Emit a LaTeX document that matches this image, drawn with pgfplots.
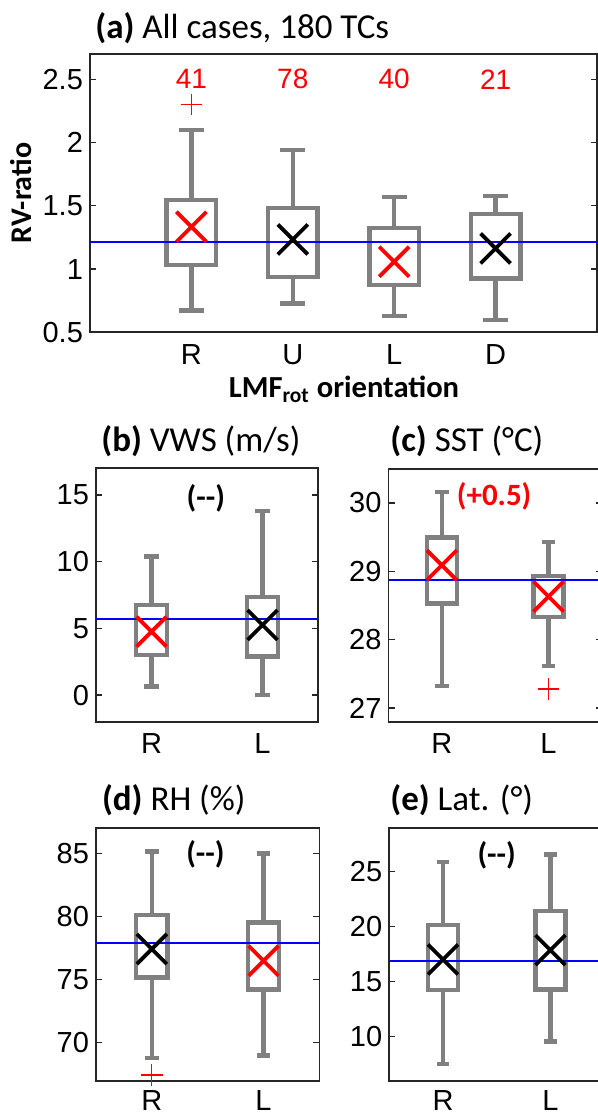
\documentclass[border=0pt]{standalone}
\usepackage{fontspec}
\setmainfont{Liberation Sans}
\newfontfamily\calib{Carlito}
\usepackage{pgfplots}
\pgfplotsset{compat=1.18}
\usepgfplotslibrary{statistics}
\definecolor{boxgray}{RGB}{128,128,128}
\definecolor{framec}{RGB}{38,38,38}
\definecolor{mred}{RGB}{255,0,0}
\definecolor{mblue}{RGB}{0,0,255}

\pgfplotsset{
  mystyle/.style={
    scale only axis, anchor=north west,
    axis line style={draw=framec, line width=0.85pt},
    tick align=inside,
    major tick length=3pt,
    xtick style={draw=none},
    ytick style={draw=framec, line width=0.6pt},
    tick label style={font=\fontsize{14.5}{16}\selectfont},
    /pgf/number format/assume math mode=true,
    xticklabel style={yshift=-2.4pt},
    boxplot/draw direction=y,
    boxplot/draw/median/.code={},
  },
  bx/.style={draw=boxgray, line width=2.2pt, solid, mark=none},
  xm/.style={only marks, mark=x, mark size=10.6pt, mark options={line width=1.9pt, solid}},
  pm/.style={only marks, mark=+, mark size=5.4pt, mark options={line width=0.65pt, solid}, mred},
  bl/.style={mblue, line width=1pt, mark=none},
}

\begin{document}
\begin{tikzpicture}
\useasboundingbox (0pt,0pt) rectangle (299pt,557.5pt);
\begin{scope}
\clip (0pt,0pt) rectangle (299pt,557.5pt);

% ---------------- (a) ----------------
\begin{axis}[mystyle, at={(45pt,530.5pt)}, width=253.5pt, height=139.15pt,
  xmin=0, xmax=5, ymin=0.5, ymax=2.7,
  xtick={1,2,3,4}, xticklabels={R,U,L,D},
  ytick={0.5,1,1.5,2,2.5}]
\addplot[bx, boxplot prepared={lower whisker=0.671, lower quartile=1.032, median=1.334, upper quartile=1.545, upper whisker=2.097, draw position=1, box extend=0.49, whisker extend=0.246}] coordinates {};
\addplot[bx, boxplot prepared={lower whisker=0.729, lower quartile=0.939, median=1.234, upper quartile=1.484, upper whisker=1.94, draw position=2, box extend=0.49, whisker extend=0.246}] coordinates {};
\addplot[bx, boxplot prepared={lower whisker=0.629, lower quartile=0.874, median=1.058, upper quartile=1.326, upper whisker=1.571, draw position=3, box extend=0.49, whisker extend=0.246}] coordinates {};
\addplot[bx, boxplot prepared={lower whisker=0.597, lower quartile=0.926, median=1.163, upper quartile=1.434, upper whisker=1.576, draw position=4, box extend=0.49, whisker extend=0.246}] coordinates {};
\addplot[bl] coordinates {(0,1.216) (5,1.216)};
\addplot[xm, mred] coordinates {(1,1.334) (3,1.058)};
\addplot[xm, black] coordinates {(2,1.234) (4,1.163)};
\addplot[pm] coordinates {(1,2.30)};
\node[mred, font=\fontsize{14}{16}\selectfont] at (axis cs:1,2.5) {41};
\node[mred, font=\fontsize{14}{16}\selectfont] at (axis cs:2,2.5) {78};
\node[mred, font=\fontsize{14}{16}\selectfont] at (axis cs:3,2.5) {40};
\node[mred, font=\fontsize{14}{16}\selectfont] at (axis cs:4,2.5) {21};
\end{axis}

% ---------------- (b) ----------------
\begin{axis}[mystyle, at={(48pt,323.35pt)}, width=111pt, height=126.7pt,
  xmin=0.5, xmax=2.5, ymin=-2, ymax=17,
  xtick={1,2}, xticklabels={R,L}, ytick={0,5,10,15}]
\addplot[bx, boxplot prepared={lower whisker=0.625, lower quartile=3.0, median=4.75, upper quartile=6.75, upper whisker=10.375, draw position=1, box extend=0.28, whisker extend=0.14}] coordinates {};
\addplot[bx, boxplot prepared={lower whisker=0.0, lower quartile=2.875, median=5.25, upper quartile=7.33, upper whisker=13.8, draw position=2, box extend=0.28, whisker extend=0.14}] coordinates {};
\addplot[bl] coordinates {(0.5,5.675) (2.5,5.675)};
\addplot[xm, mred] coordinates {(1,4.75)};
\addplot[xm, black] coordinates {(2,5.25)};
\node[font=\calib\bfseries\fontsize{15.5}{16}\selectfont] at (axis cs:1.49,14.75) {(-{}-)};
\end{axis}

% ---------------- (c) ----------------
\begin{axis}[mystyle, at={(194.25pt,323.1pt)}, width=106.7pt, height=126.45pt,
  xmin=0.5, xmax=2.5, ymin=26.8, ymax=30.5,
  xtick={1,2}, xticklabels={R,L}, ytick={27,28,29,30}]
\addplot[bx, boxplot prepared={lower whisker=27.32, lower quartile=28.53, median=29.09, upper quartile=29.496, upper whisker=30.157, draw position=1, box extend=0.28, whisker extend=0.13}] coordinates {};
\addplot[bx, boxplot prepared={lower whisker=27.616, lower quartile=28.336, median=28.63, upper quartile=28.933, upper whisker=29.427, draw position=2, box extend=0.28, whisker extend=0.13}] coordinates {};
\addplot[bl] coordinates {(0.5,28.874) (2.5,28.874)};
\addplot[xm, mred] coordinates {(1,29.09) (2,28.63)};
\addplot[pm] coordinates {(2,27.28)};
\node[mred, font=\calib\bfseries\fontsize{15.5}{16}\selectfont] at (axis cs:1.49,30.09) {(+0.5)};
\end{axis}

% ---------------- (d) ----------------
\begin{axis}[mystyle, at={(48pt,143.35pt)}, width=111.7pt, height=126.2pt,
  xmin=0.5, xmax=2.5, ymin=67, ymax=87,
  xtick={1,2}, xticklabels={R,L}, ytick={70,75,80,85},
  xticklabel style={yshift=1.2pt}]
\addplot[bx, boxplot prepared={lower whisker=68.79, lower quartile=75.19, median=77.43, upper quartile=80.12, upper whisker=85.16, draw position=1, box extend=0.28, whisker extend=0.12}] coordinates {};
\addplot[bx, boxplot prepared={lower whisker=69.0, lower quartile=74.22, median=76.5, upper quartile=79.54, upper whisker=85.0, draw position=2, box extend=0.28, whisker extend=0.12}] coordinates {};
\addplot[bl] coordinates {(0.5,77.88) (2.5,77.88)};
\addplot[xm, black] coordinates {(1,77.43)};
\addplot[xm, mred] coordinates {(2,76.5)};
\addplot[pm] coordinates {(1,67.45)};
\node[font=\calib\bfseries\fontsize{15.5}{16}\selectfont] at (axis cs:1.48,84.92) {(-{}-)};
\end{axis}

% ---------------- (e) ----------------
\begin{axis}[mystyle, at={(194.65pt,143.35pt)}, width=107.4pt, height=126.2pt,
  xmin=0.5, xmax=2.5, ymin=6, ymax=28.9,
  xtick={1,2}, xticklabels={R,L}, ytick={10,15,20,25},
  xticklabel style={yshift=1.2pt}]
\addplot[bx, boxplot prepared={lower whisker=7.49, lower quartile=14.22, median=17.0, upper quartile=20.11, upper whisker=25.85, draw position=1, box extend=0.28, whisker extend=0.12}] coordinates {};
\addplot[bx, boxplot prepared={lower whisker=9.55, lower quartile=14.28, median=17.85, upper quartile=21.41, upper whisker=26.54, draw position=2, box extend=0.28, whisker extend=0.12}] coordinates {};
\addplot[bl] coordinates {(0.5,16.88) (2.5,16.88)};
\addplot[xm, black] coordinates {(1,17.0) (2,17.85)};
\node[font=\calib\bfseries\fontsize{15.5}{16}\selectfont] at (axis cs:1.5,26.42) {(-{}-)};
\end{axis}

% ---------------- titles and labels ----------------
\node[anchor=base west, inner sep=0pt, font=\calib\fontsize{17.5}{18}\selectfont] at (47.5pt,538pt) {\textbf{(a)} All cases, 180 TCs};
\node[anchor=base west, inner sep=0pt, font=\calib\fontsize{17.5}{18}\selectfont] at (50.5pt,331.5pt) {\textbf{(b)} VWS (m/s)};
\node[anchor=base west, inner sep=0pt, font=\calib\fontsize{17.5}{18}\selectfont] at (195pt,331.5pt) {\textbf{(c)} SST (°C)};
\node[anchor=base west, inner sep=0pt, font=\calib\fontsize{17.5}{18}\selectfont] at (50.8pt,152pt) {\textbf{(d)} RH (\%)};
\node[anchor=base west, inner sep=0pt, font=\calib\fontsize{17.5}{18}\selectfont] at (195pt,152pt) {\textbf{(e)} Lat. (°)};
\node[rotate=90, anchor=base, inner sep=0pt, font=\calib\bfseries\fontsize{15}{16}\selectfont] at (16pt,461pt) {RV-ratio};
\node[anchor=base, inner sep=0pt, font=\calib\bfseries\fontsize{15.3}{16}\selectfont] at (172pt,358.5pt) {LMF\textsubscript{rot} orientation};
\end{scope}
\end{tikzpicture}
\end{document}
